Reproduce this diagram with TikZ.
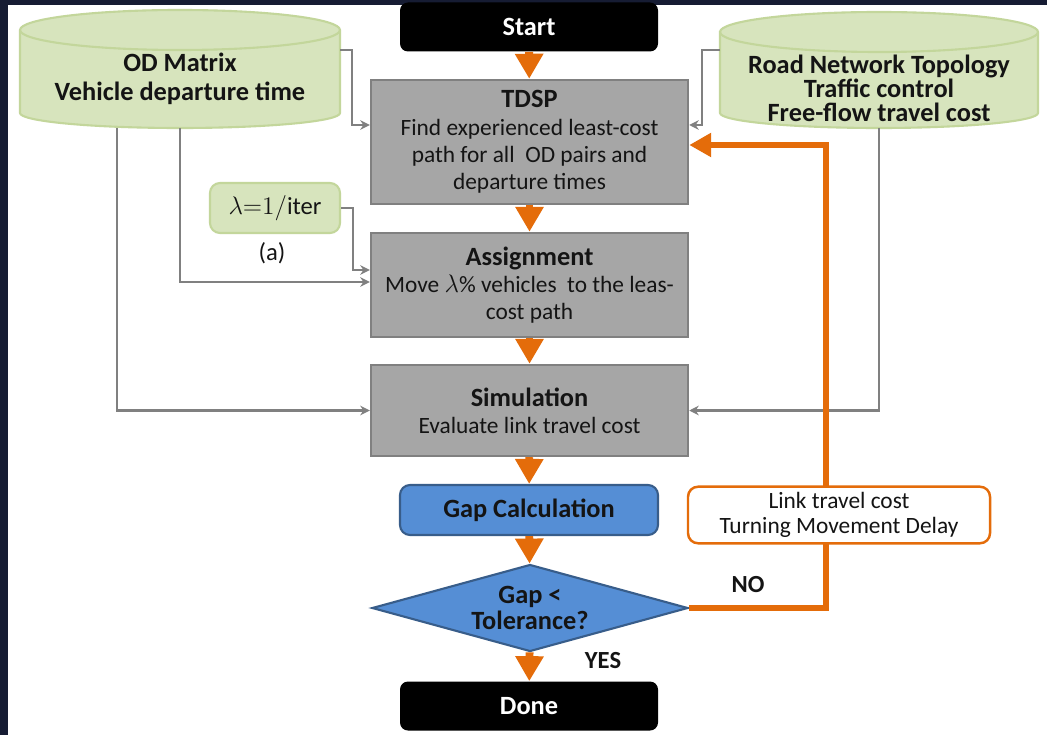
\documentclass[tikz,border=0pt]{standalone}
\usepackage{fontspec}
\setmainfont{Carlito}
\usetikzlibrary{arrows.meta,calc,positioning,shapes.geometric,backgrounds}
\definecolor{DtaOrange}{RGB}{228,108,10}
\definecolor{DtaGray}{RGB}{166,166,166}
\definecolor{DtaGrayLine}{RGB}{128,128,128}
\definecolor{DtaGreen}{RGB}{215,228,189}
\definecolor{DtaGreenLine}{RGB}{195,214,155}
\definecolor{DtaBlue}{RGB}{85,142,213}
\definecolor{DtaBlueLine}{RGB}{56,93,138}
\definecolor{DtaNavy}{RGB}{22,28,51}
\definecolor{DtaText}{RGB}{20,20,20}
\newcommand{\stephead}[1]{{\bfseries\fontsize{15}{15.5}\selectfont #1}}

\begin{document}
\begin{tikzpicture}[>=Stealth]
    \tikzset{process/.style={draw=DtaGrayLine,line width=1.4pt,fill=DtaGray,minimum width=6.34cm,align=center,text=DtaText,font=\fontsize{13.3}{15.5}\selectfont},
      terminal/.style={fill=black,rounded corners=1.6mm,minimum width=5.16cm,minimum height=0.98cm,text=white,font=\bfseries\fontsize{15}{16}\selectfont},
      database/.style={outer sep=0pt,inner sep=0pt,align=center,text=DtaText,font=\bfseries\fontsize{15}{16.4}\selectfont},
      can/.style={draw=DtaGreenLine,line width=1.2pt,fill=DtaGreen},
      input/.style={draw=DtaGreenLine,line width=1.2pt,fill=DtaGreen,rounded corners=2mm,minimum width=2.6cm,minimum height=1cm,text=DtaText,font=\fontsize{14}{15}\selectfont},
      note/.style={draw=DtaOrange,line width=1.4pt,fill=white,rounded corners=2mm,minimum width=6.04cm,minimum height=1cm,align=center,text=DtaText,font=\fontsize{13.3}{14}\selectfont},
      decision/.style={diamond,aspect=3.6,draw=DtaBlueLine,line width=1.2pt,fill=DtaBlue,minimum width=6.32cm,minimum height=1.74cm,inner sep=0pt,align=center,text=DtaText,font=\bfseries\fontsize{15}{15.3}\selectfont},
      answer/.style={text=DtaText,font=\bfseries\fontsize{14}{15}\selectfont},
      flow/.style={-{Triangle[length=5mm,width=5.4mm]},line width=4.5pt,DtaOrange},
      loopback/.style={-{Triangle[length=4.4mm,width=4.6mm]},line width=3.4pt,DtaOrange},
      feed/.style={-{Stealth[length=1.9mm,width=1.9mm]},line width=1.5pt,DtaGrayLine}}
    \useasboundingbox (0,0) rectangle (20.94,-14.7);
    \begin{scope}[on background layer]
      \fill[DtaNavy] (0,0) rectangle (20.94,-14.7);
      \fill[white] (0.16,-0.1) rectangle (20.94,-14.7);
    \end{scope}
    % main chain
    \node[terminal] (start) at (10.58,-0.54) {Start};
    \node[process,minimum height=2.48cm] (tdsp) at (10.59,-2.84) {\stephead{TDSP}\\ Find experienced least-cost\\ path for all~ OD pairs and\\ departure times};
    \node[process,minimum height=2.08cm] (assign) at (10.59,-5.70) {\stephead{Assignment}\\ Move $\lambda\%$ vehicles~ to the leas-\\ cost path};
    \node[process,minimum height=1.82cm] (sim) at (10.59,-8.21) {\stephead{Simulation}\\ Evaluate link travel cost};
    \node[terminal,fill=DtaBlue,draw=DtaBlueLine,line width=1.2pt,rounded corners=2mm,minimum height=1cm,text=DtaText] (gap) at (10.58,-10.2) {Gap Calculation};
    \node[decision] (dec) at (10.6,-12.16) {Gap <\\ Tolerance?};
    \node[terminal] (done) at (10.58,-14.12) {Done};
    % inputs (body of each can, from top rim down)
    \node[database,minimum width=6.4cm,minimum height=1.96cm] (od) at (3.6,-1.58) {OD Matrix\\ Vehicle departure time};
    \node[database,minimum width=6.36cm,minimum height=2.24cm,font=\bfseries\fontsize{15}{13.6}\selectfont] (road) at (17.58,-1.76) {Road Network Topology\\ Traffic control\\ Free-flow travel cost};
    \begin{scope}[on background layer]
      \foreach \db/\rx/\rise in {od/3.2/0.3,road/3.18/0.62} {
        \draw[can] (\db.north west) -- ([yshift=\rise cm]\db.south west) arc[start angle=180,end angle=360,x radius=\rx cm,y radius=0.3cm] -- (\db.north east) arc[start angle=0,end angle=180,x radius=\rx cm,y radius=0.4cm] -- cycle;
        \draw[can,fill=none] (\db.north west) arc[start angle=180,end angle=360,x radius=\rx cm,y radius=0.4cm];
      }
    \end{scope}
    \node[input] (lam) at (5.5,-4.16) {$\lambda{=}1/$iter};
    \node[text=DtaText,font=\fontsize{14}{15}\selectfont] (lamnote) at (5.44,-5.06) {(a)};
    % gray inputs
    \draw[feed] (od.east |- 0,-1.0) -- ++(0.24,0) |- ([yshift=0.34cm]tdsp.west);
    \draw[feed] (od.south) |- ([yshift=0.06cm]assign.west);
    \draw[feed] ([xshift=-1.26cm]od.south) |- (sim.west);
    \draw[feed] (lam.east) -- ++(0.24,0) |- ([yshift=0.3cm]assign.west);
    \draw[feed] (road.west |- 0,-1.0) -- ++(-0.36,0) |- ([yshift=0.34cm]tdsp.east);
    \draw[feed] ([yshift=0.32cm]road.south) |- (sim.east);
    % orange flow
    \draw[flow] (start) -- (tdsp);
    \draw[flow] (tdsp) -- (assign);
    \draw[flow] (assign) -- (sim);
    \draw[flow] (sim) -- (gap);
    \draw[flow] (gap) -- (dec);
    \draw[flow] (dec) -- (done);
    \draw[loopback] (dec.east) -- ++(2.74,0) |- ([yshift=-0.06cm]tdsp.east);
    \node[note] (cost) at (16.78,-10.3) {Link travel cost\\ Turning Movement Delay};
    \node[answer] (no) at (14.96,-11.7) {NO};
    \node[answer] (yes) at (12.06,-13.22) {YES};
  \end{tikzpicture}
\end{document}
